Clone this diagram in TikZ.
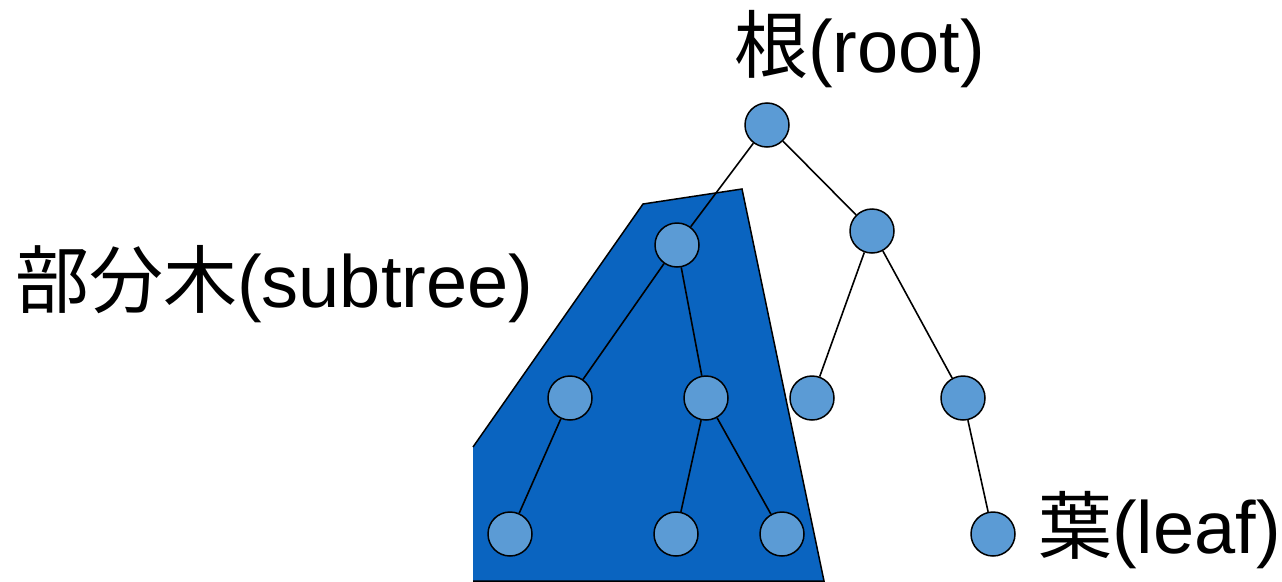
\documentclass[tikz,border=0pt]{standalone}
\usepackage{fontspec}
\setmainfont{Liberation Sans}
\newfontfamily\cjk{Noto Sans CJK JP}
\tikzset{
  tnode/.style={circle,draw=black,line width=1.5pt,fill=nodeblue,minimum size=44pt,inner sep=0pt},
  edge/.style={draw=black,line width=1.6pt},
  lbl/.style={anchor=base west,inner sep=0pt,font=\fontsize{74}{78}\selectfont}
}
\definecolor{nodeblue}{HTML}{5B9BD5}
\definecolor{subblue}{HTML}{0A64C0}
\begin{document}
\begin{tikzpicture}[x=1pt,y=-1pt]
\useasboundingbox (0,0) rectangle (1282,581);
% subtree region
\draw[fill=subblue,line width=1.5pt] (473,447) -- (643,204) -- (742,189) -- (824,581) -- (473,581);
% nodes
\node[tnode] (r) at (767,125) {};
\node[tnode] (a) at (677,245) {};
\node[tnode] (b) at (872,231) {};
\node[tnode] (a1) at (570,398) {};
\node[tnode] (a2) at (706,398) {};
\node[tnode] (b1) at (812,398) {};
\node[tnode] (b2) at (963,398) {};
\node[tnode] (a1a) at (510,534) {};
\node[tnode] (a2a) at (676,534) {};
\node[tnode] (a2b) at (782,534) {};
\node[tnode] (b2a) at (993,534) {};
% edges
\foreach \u/\v in {r/a,r/b,a/a1,a/a2,b/b1,b/b2,a1/a1a,a2/a2a,a2/a2b,b2/b2a}
  \draw[edge] (\u) -- (\v);
% labels
\node[lbl] (troot) at (734,72) {{\cjk 根}(root)};
\node[lbl] (tsub) at (15,307) {{\cjk 部分木}(subtree)};
\node[lbl] (tleaf) at (1038,553) {{\cjk 葉}(leaf)};
\end{tikzpicture}
\end{document}
